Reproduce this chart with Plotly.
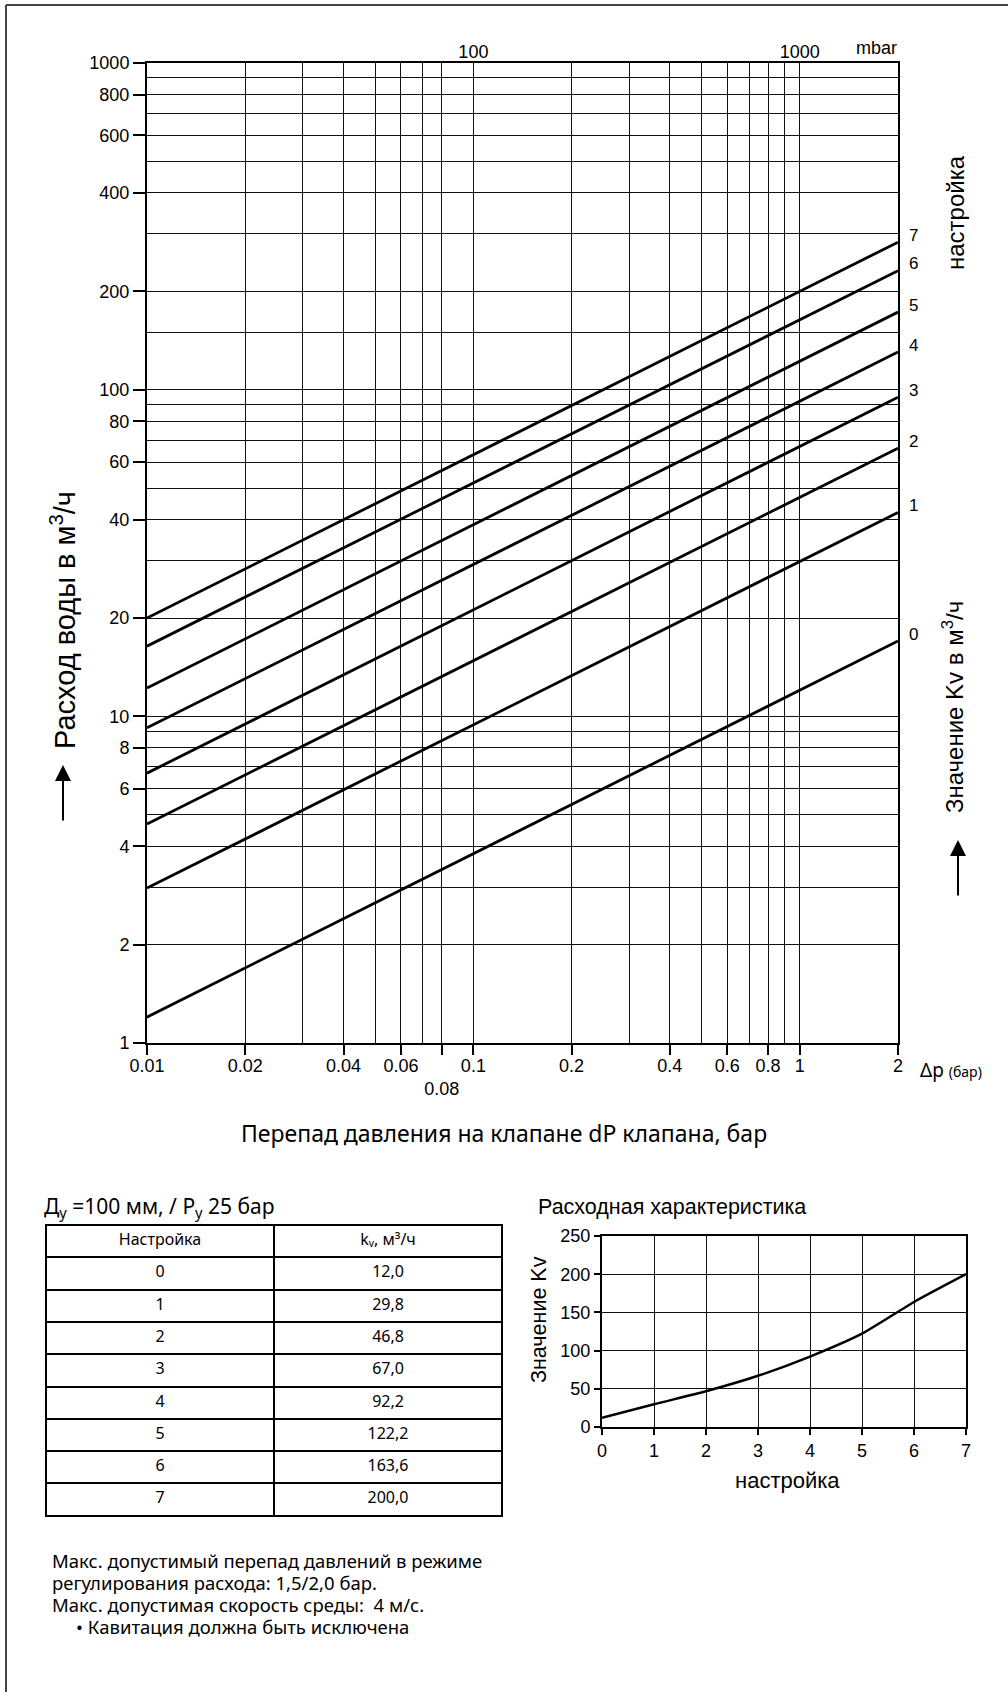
import math
import plotly.graph_objects as go

# ---------------- data ----------------
settings = [0, 1, 2, 3, 4, 5, 6, 7]
kv = [12.0, 29.8, 46.8, 67.0, 92.2, 122.2, 163.6, 200.0]
dp_start = 0.01
dp_end = 2.0
# flow read at the ends of each setting line (m3/h)
q_start = [1.2, 2.98, 4.68, 6.7, 9.22, 12.2, 16.4, 20.0]
q_end = [17.0, 42.1, 66.2, 94.8, 130.4, 172.8, 231.4, 282.8]

x_major = [0.01, 0.02, 0.04, 0.06, 0.08, 0.1, 0.2, 0.4, 0.6, 0.8, 1, 2]
x_major_text = ["0.01", "0.02", "0.04", "0.06", " <br>0.08", "0.1", "0.2", "0.4", "0.6", "0.8", "1", "2"]
x_minor = [0.03, 0.05, 0.07, 0.3, 0.5, 0.7, 0.9]
y_major = [1, 2, 4, 6, 8, 10, 20, 40, 60, 80, 100, 200, 400, 600, 800, 1000]
y_minor = [3, 5, 7, 9, 30, 50, 70, 90, 150, 300, 500, 700, 900]
mbar_vals = [0.1, 1]
mbar_text = ["100", "1000"]

# ---------------- layout helpers ----------------
W, H = 1008, 1692
def px(x):
    return x / W
def py(y):
    return (H - y) / H

ARIAL = "Liberation Sans, Arial, sans-serif"
MYR = "Noto Sans, Open Sans, sans-serif"

fig = go.Figure()

# main chart lines
for i, s in enumerate(settings):
    fig.add_trace(go.Scatter(
        x=[dp_start, dp_end], y=[q_start[i], q_end[i]], mode="lines",
        line=dict(color="black", width=2.8), showlegend=False, hoverinfo="skip",
        xaxis="x", yaxis="y"))

# dummy trace for top axis
fig.add_trace(go.Scatter(x=[dp_start, dp_end], y=[1, 1], mode="lines",
                         line=dict(width=0), showlegend=False, hoverinfo="skip",
                         xaxis="x2", yaxis="y"))

# small chart
fig.add_trace(go.Scatter(
    x=settings, y=kv, mode="lines", line=dict(color="black", width=2.5, shape="spline", smoothing=0.6),
    showlegend=False, hoverinfo="skip", xaxis="x3", yaxis="y3"))

# table
kv_text = [f"{v:.1f}".replace(".", ",") for v in kv]
fig.add_trace(go.Table(
    domain=dict(x=[px(46), px(502)], y=[py(1518), py(1225)]),
    columnwidth=[228, 228],
    header=dict(values=["Настройка", "kᵥ, м³/ч"],
                align="center", height=32.3,
                line=dict(color="black", width=2), fill=dict(color="white"),
                font=dict(family=MYR, size=16, color="black")),
    cells=dict(values=[[str(s) for s in settings], kv_text],
               align="center", height=32.3,
               line=dict(color="black", width=2), fill=dict(color="white"),
               font=dict(family=MYR, size=16, color="black")),
))

grid_col = "#111111"
fig.update_layout(
    width=W, height=H, margin=dict(l=0, r=0, t=0, b=0, pad=0),
    paper_bgcolor="white", plot_bgcolor="white", showlegend=False,
    xaxis=dict(
        type="log", range=[math.log10(dp_start), math.log10(dp_end)],
        domain=[px(147), px(898)], anchor="y", automargin=False, tickangle=0,
        tickmode="array", tickvals=x_major, ticktext=x_major_text,
        ticks="outside", ticklen=10, tickwidth=1.5, tickcolor="black",
        ticklabelstandoff=-5,
        showgrid=True, gridcolor=grid_col, gridwidth=1.4,
        showline=True, linecolor="black", linewidth=2, mirror=True,
        tickfont=dict(family=ARIAL, size=18, color="black"),
        minor=dict(tickmode="array", tickvals=x_minor, ticks="", showgrid=True,
                   gridcolor=grid_col, gridwidth=1.4),
        zeroline=False,
    ),
    xaxis2=dict(
        type="log", range=[math.log10(dp_start), math.log10(dp_end)],
        overlaying="x", side="top", anchor="y", automargin=False, tickangle=0,
        tickmode="array", tickvals=mbar_vals, ticktext=mbar_text,
        ticks="", showgrid=False, showline=False,
        tickfont=dict(family=ARIAL, size=18, color="black"),
    ),
    yaxis=dict(
        type="log", range=[0, 3], domain=[py(1043), py(63)], anchor="x", automargin=False,
        tickmode="array", tickvals=y_major, ticktext=[str(v) for v in y_major],
        ticks="outside", ticklen=12, tickwidth=1.5, tickcolor="black",
        showgrid=True, gridcolor=grid_col, gridwidth=1.4,
        showline=True, linecolor="black", linewidth=2, mirror=True,
        tickfont=dict(family=ARIAL, size=18, color="black"),
        minor=dict(tickmode="array", tickvals=y_minor, ticks="", showgrid=True,
                   gridcolor=grid_col, gridwidth=1.4),
        zeroline=False,
    ),
    xaxis3=dict(
        range=[0, 7], domain=[px(602), px(966)], anchor="y3", automargin=False, tickangle=0,
        tickmode="linear", tick0=0, dtick=1,
        ticks="outside", ticklen=6, tickwidth=1.5, tickcolor="black",
        showgrid=True, gridcolor=grid_col, gridwidth=1.4,
        showline=True, linecolor="black", linewidth=2, mirror=True,
        tickfont=dict(family=ARIAL, size=18, color="black"), zeroline=False,
    ),
    yaxis3=dict(
        range=[0, 250], domain=[py(1427), py(1236)], anchor="x3", automargin=False,
        tickmode="linear", tick0=0, dtick=50,
        ticks="outside", ticklen=6, tickwidth=1.5, tickcolor="black",
        showgrid=True, gridcolor=grid_col, gridwidth=1.4,
        showline=True, linecolor="black", linewidth=2, mirror=True,
        tickfont=dict(family=ARIAL, size=18, color="black"), zeroline=False,
    ),
)

ann = []
# setting labels at the right end of each line
for i, s in enumerate(settings):
    ann.append(dict(x=math.log10(dp_end), y=math.log10(q_end[i]), xref="x", yref="y",
                    text=str(s), showarrow=False, xanchor="left", yanchor="middle",
                    xshift=9, yshift=7, font=dict(family=ARIAL, size=17, color="black")))

def txt(x, y, text, size, family=ARIAL, angle=0, xanchor="center", yanchor="middle"):
    ann.append(dict(x=px(x), y=py(y), xref="paper", yref="paper", text=text,
                    showarrow=False, textangle=angle, xanchor=xanchor, yanchor=yanchor,
                    font=dict(family=family, size=size, color="black")))

txt(876, 48, "mbar", 18)
txt(956, 213, "настройка", 24, angle=-90)
txt(953, 707, "Значение Kv в м<sup>3</sup>/ч", 24, angle=-90)
txt(63, 620, "Расход воды в м<sup>3</sup>/ч", 29, angle=-90)
txt(918, 1070, "Δp <span style='font-size:14px'>(бар)</span>", 19, family=MYR, xanchor="left")
txt(504, 1133, "Перепад давления на клапане dP клапана, бар", 23, family=MYR)
txt(42, 1207, "Д<sub>у</sub> =100 мм, / P<sub>у</sub> 25 бар", 21, family=MYR, xanchor="left")
txt(536, 1207, "Расходная характеристика", 21.5, xanchor="left")
txt(539, 1320, "Значение Kv", 21.5, angle=-90)
txt(787, 1480, "настройка", 22)
notes = ["Макс. допустимый перепад давлений в режиме",
         "регулирования расхода: 1,5/2,0 бар.",
         "Макс. допустимая скорость среды:  4 м/с.",
         "     • Кавитация должна быть исключена"]
for k, line in enumerate(notes):
    txt(50, 1560 + 22 * k, line, 18.5, family=MYR, xanchor="left")

# arrows
for (ax_x, tip_y) in [(63, 765), (958, 840)]:
    ann.append(dict(x=px(ax_x), y=py(tip_y), xref="paper", yref="paper", text="",
                    showarrow=True, ax=0, ay=57, axref="pixel", ayref="pixel",
                    arrowhead=2, arrowsize=1.6, arrowwidth=2, arrowcolor="black"))

fig.update_layout(annotations=ann)

# page border (top and left)
fig.update_layout(shapes=[
    dict(type="line", xref="paper", yref="paper", x0=px(6), x1=1, y0=py(5), y1=py(5),
         line=dict(color="#444", width=2)),
    dict(type="line", xref="paper", yref="paper", x0=px(6), x1=px(6), y0=py(5), y1=0,
         line=dict(color="#444", width=2)),
])

fig.write_html("out.html", config={"displayModeBar": False},
               post_script="document.body.style.margin='0';")
